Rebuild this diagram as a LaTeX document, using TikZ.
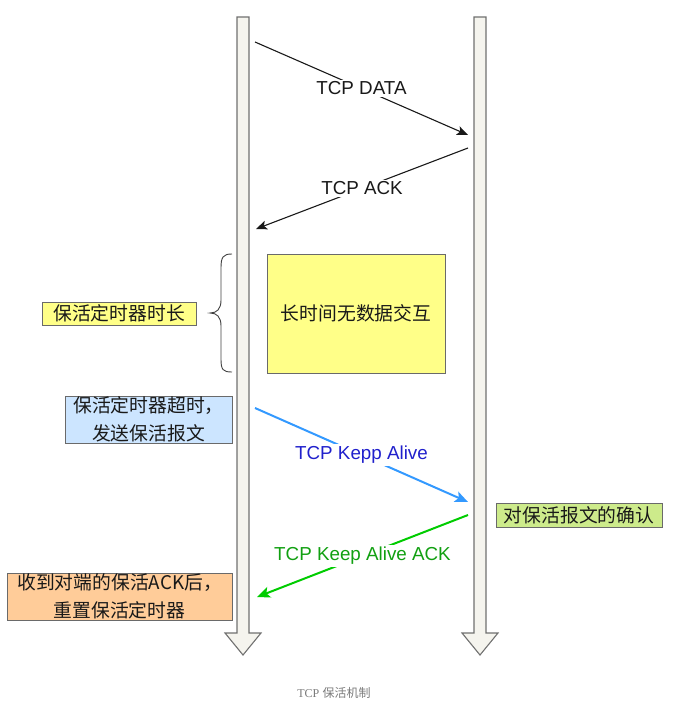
\documentclass[tikz,border=0pt]{standalone}
\usepackage{fontspec}
\setmainfont{Liberation Sans}
\newfontfamily\cjk{Noto Sans CJK SC}
\newfontfamily\capserif{Liberation Serif}
\usetikzlibrary{arrows.meta}
\definecolor{lifefill}{HTML}{F5F4EE}
\definecolor{lifedraw}{HTML}{707070}
\definecolor{boxdraw}{HTML}{6A6A6A}
\definecolor{noteyellow}{HTML}{FFFF88}
\definecolor{noteblue}{HTML}{CCE5FF}
\definecolor{noteorange}{HTML}{FFCC99}
\definecolor{notegreen}{HTML}{CDEB8B}
\definecolor{kablue}{HTML}{3399FF}
\definecolor{katext}{HTML}{2020CC}
\definecolor{ackgreen}{HTML}{00CC00}
\definecolor{acktext}{HTML}{11A011}
\definecolor{captiongray}{HTML}{7A7A7A}
\tikzset{
  lifeline/.style={fill=lifefill, draw=lifedraw, line width=1.1pt, line join=miter},
  notebox/.style={draw=boxdraw, line width=0.9pt, inner sep=0pt, align=center,
    font=\fontsize{18.8}{28}\cjk, text=black!90},
  msg/.style={line width=1.1pt, -{Stealth[length=11pt,width=9pt,inset=2.5pt]}},
  bigmsg/.style={line width=2pt, -{Stealth[length=13pt,width=11pt,inset=3pt]}},
  msglabel/.style={fill=white, inner sep=2pt, font=\fontsize{18.8}{22}\selectfont},
}
\begin{document}
\begin{tikzpicture}[x=1pt,y=-1pt]
\useasboundingbox (0,0) rectangle (673,708);

% lifelines
\draw[lifeline] (237,17) -- (249,17) -- (249,633) -- (261,633) -- (243,655) -- (225,633) -- (237,633) -- cycle;
\draw[lifeline] (474,17) -- (486,17) -- (486,633) -- (498,633) -- (480,655) -- (462,633) -- (474,633) -- cycle;

% notes
\node[notebox, fill=noteyellow, minimum width=178pt, minimum height=119pt] (idle) at (356,313.5) {长时间无数据交互};
\node[notebox, fill=noteyellow, minimum width=154pt, minimum height=23pt] (dur) at (119,313.5) {保活定时器时长};
\node[notebox, fill=noteblue, minimum width=167pt, minimum height=47pt] (timeout) at (148.5,419.5) {保活定时器超时，\\发送保活报文};
\node[notebox, fill=noteorange, minimum width=225pt, minimum height=47pt] (reset) at (119.5,596.5) {收到对端的保活ACK后，\\重置保活定时器};
\node[notebox, fill=notegreen, minimum width=166pt, minimum height=24pt] (confirm) at (579,515) {对保活报文的确认};

% brace
\draw[line width=0.9pt, draw=black!75] (232,254) .. controls (223,254) and (221,257) .. (221,268)
  -- (221,300) .. controls (221,309) and (217,313) .. (210,313)
  .. controls (217,313) and (221,317) .. (221,326)
  -- (221,359) .. controls (221,370) and (223,372) .. (232,372);

% message end points
\coordinate (d1) at (255,42);  \coordinate (d2) at (468,135);
\coordinate (a1) at (468,148); \coordinate (a2) at (256,229);
\coordinate (k1) at (255,408); \coordinate (k2) at (468,502);
\coordinate (c1) at (468,515); \coordinate (c2) at (257,597);

\draw[msg, black!90] (d1) -- node[msglabel, text=black!90] (ldata) {TCP DATA} (d2);
\draw[msg, black!90] (a1) -- node[msglabel, text=black!90] (lack) {TCP ACK} (a2);
\draw[bigmsg, kablue] (k1) -- node[msglabel, text=katext] (lka) {TCP Kepp Alive} (k2);
\draw[bigmsg, ackgreen] (c1) -- node[msglabel, text=acktext] (lkaack) {TCP Keep Alive ACK} (c2);

% caption
\node[text=captiongray, font=\fontsize{12}{14}\selectfont, inner sep=0pt] (caption) at (334,693) {{\capserif TCP} {\cjk 保活机制}};
\end{tikzpicture}
\end{document}
